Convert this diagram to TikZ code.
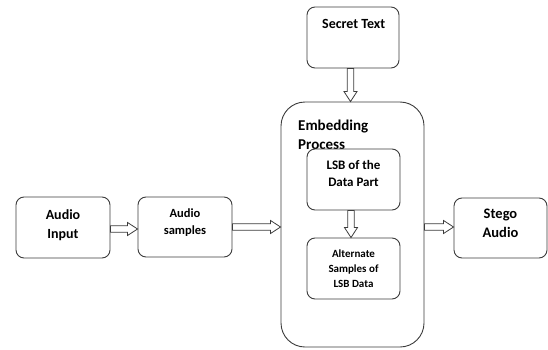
\documentclass[tikz,border=0pt]{standalone}
\usepackage{fontspec}
\setmainfont{Carlito}
\usetikzlibrary{calc}
\definecolor{linegray}{HTML}{3C3C3C}
\begin{document}
\begin{tikzpicture}[x=1pt,y=1pt,
  box/.style={draw=linegray, line width=0.9pt, rounded corners=8pt, fill=white,
              minimum width=93pt, minimum height=61pt, inner sep=0pt},
  lbl/.style={align=center, inner sep=0pt},
  flow/.style={draw=linegray, line width=0.8pt, fill=white},
  % hollow block arrow pointing right, drawn at the start point's height
  hollowright/.style={to path={let \p1=(\tikztostart), \p2=(\tikztotarget) in
    (\x1,\y1+3.3pt) -- (\x2-10pt,\y1+3.3pt) -- (\x2-10pt,\y1+6.5pt) -- (\x2,\y1)
    -- (\x2-10pt,\y1-6.5pt) -- (\x2-10pt,\y1-3.3pt) -- (\x1,\y1-3.3pt) -- cycle}},
  % hollow block arrow pointing down, drawn at the start point's x
  hollowdown/.style={to path={let \p1=(\tikztostart), \p2=(\tikztotarget) in
    (\x1+3.3pt,\y1) -- (\x1+3.3pt,\y2+10pt) -- (\x1+6.5pt,\y2+10pt) -- (\x1,\y2)
    -- (\x1-6.5pt,\y2+10pt) -- (\x1-3.3pt,\y2+10pt) -- (\x1-3.3pt,\y1) -- cycle}}]

\useasboundingbox (0,0) rectangle (548,349);

% input side
\node[box, minimum width=94pt] (ain) at (63,121.5) {};
\node[lbl, font=\bfseries\fontsize{14}{19}\selectfont] (ainT) at ([yshift=2pt]ain.center) {Audio\\Input};

\node[box, minimum width=94pt, minimum height=60pt] (samp) at (185,122) {};
\node[lbl, font=\bfseries\fontsize{12.5}{16.7}\selectfont] (sampT) at ([yshift=4.5pt]samp.center) {Audio\\samples};

% secret message
\node[box, minimum width=92pt] (secret) at (353,311.5) {};
\node[lbl, anchor=base, font=\bfseries\fontsize{14}{18}\selectfont] (secretT) at (353.7,320) {Secret Text};

% embedding stage
\node[box, rounded corners=24pt, minimum width=143pt, minimum height=245pt] (embed) at (352.5,124.5) {};
\node[lbl, anchor=base west, font=\bfseries\fontsize{15}{19}\selectfont] (embT1) at (298,219) {Embedding};
\node[lbl, anchor=base west, font=\bfseries\fontsize{15}{19}\selectfont] (embT2) at (298,199.7) {Process};

\node[box] (lsb) at (353.5,169.5) {};
\node[lbl, font=\bfseries\fontsize{13}{17}\selectfont] (lsbT) at ([yshift=6pt]lsb.center) {LSB of the\\Data Part};

\node[box] (alt) at (353.5,80.5) {};
\node[lbl, font=\bfseries\fontsize{11}{15}\selectfont] (altT) at (alt.center) {Alternate\\Samples of\\LSB Data};

% output
\node[box, minimum height=60pt] (stego) at (500.5,121) {};
\node[lbl, font=\bfseries\fontsize{14.5}{19}\selectfont] (stegoT) at ([yshift=4.5pt]stego.center) {Stego\\Audio};

% connectors
\draw[flow] ([yshift=-1.5pt]ain.east) to[hollowright] (samp.west);
\draw[flow] (samp.east) to[hollowright] (embed.west);
\draw[flow] ($(embed.east |- stego.center)+(0,1)$) to[hollowright] (stego.west);
\draw[flow] ([xshift=-2.5pt]secret.south) to[hollowdown] (embed.north);
\draw[flow] ([xshift=-2.5pt]lsb.south) to[hollowdown] (alt.north);
\end{tikzpicture}
\end{document}
